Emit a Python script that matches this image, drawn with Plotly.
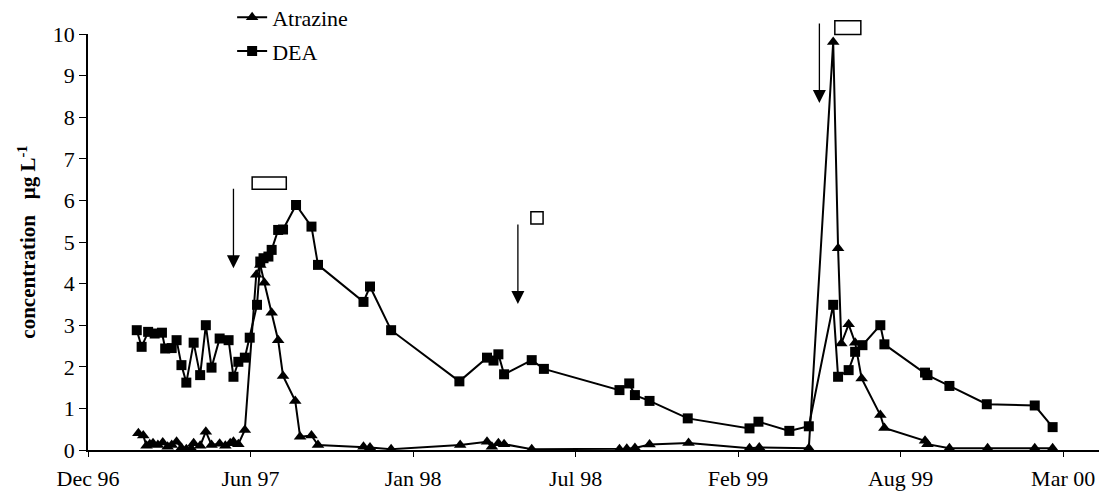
import plotly.graph_objects as go

# ---------------- data ----------------
atrazine_dates = [
    "1997-02-01", "1997-02-07", "1997-02-11", "1997-02-15", "1997-02-19", "1997-02-25",
    "1997-03-03", "1997-03-09", "1997-03-14", "1997-03-20", "1997-03-26", "1997-04-01",
    "1997-04-07", "1997-04-10", "1997-04-18", "1997-04-25", "1997-05-02", "1997-05-12",
    "1997-05-19", "1997-05-25", "1997-05-29", "1997-06-04", "1997-06-12", "1997-06-26",
    "1997-07-01", "1997-07-06", "1997-07-15", "1997-07-23", "1997-07-29", "1997-08-13",
    "1997-08-19", "1997-09-02", "1997-09-10", "1997-11-05", "1997-11-13", "1997-12-09",
    "1998-03-04", "1998-04-06", "1998-04-12", "1998-04-20", "1998-04-27", "1998-05-31",
    "1998-09-16", "1998-09-25", "1998-10-05", "1998-10-23", "1998-12-10", "1999-02-23",
    "1999-03-07", "1999-05-07", "1999-06-06", "1999-06-12", "1999-06-16", "1999-06-25",
    "1999-07-03", "1999-07-11", "1999-08-03", "1999-08-08", "1999-09-27", "1999-09-30",
    "1999-10-27", "1999-12-13", "2000-02-09", "2000-03-02",
]
atrazine_values = [
    0.40, 0.35, 0.10, 0.14, 0.16, 0.12,
    0.18, 0.08, 0.12, 0.20, 0.05, 0.02,
    0.04, 0.16, 0.10, 0.44, 0.12, 0.15,
    0.10, 0.16, 0.20, 0.14, 0.48, 4.21,
    4.45, 4.02, 3.30, 2.64, 1.78, 1.18,
    0.32, 0.35, 0.12, 0.08, 0.06, 0.02,
    0.12, 0.20, 0.08, 0.16, 0.14, 0.02,
    0.02, 0.03, 0.05, 0.13, 0.17, 0.04,
    0.06, 0.04, 9.81, 4.85, 2.56, 3.02,
    2.58, 1.72, 0.84, 0.53, 0.22, 0.14,
    0.04, 0.04, 0.04, 0.04,
]

dea_dates = [
    "1997-01-30", "1997-02-05", "1997-02-13", "1997-02-21", "1997-03-02", "1997-03-06",
    "1997-03-14", "1997-03-20", "1997-03-26", "1997-04-01", "1997-04-10", "1997-04-18",
    "1997-04-25", "1997-05-02", "1997-05-12", "1997-05-23", "1997-05-29", "1997-06-04",
    "1997-06-12", "1997-06-18", "1997-06-27", "1997-07-01", "1997-07-05", "1997-07-11",
    "1997-07-15", "1997-07-23", "1997-07-29", "1997-08-14", "1997-09-02", "1997-09-10",
    "1997-11-05", "1997-11-13", "1997-12-09", "1998-03-03", "1998-04-06", "1998-04-14",
    "1998-04-20", "1998-04-27", "1998-05-31", "1998-06-15", "1998-09-16", "1998-09-28",
    "1998-10-05", "1998-10-23", "1998-12-09", "1999-02-23", "1999-03-06", "1999-04-13",
    "1999-05-07", "1999-06-06", "1999-06-12", "1999-06-25", "1999-07-03", "1999-07-12",
    "1999-08-03", "1999-08-08", "1999-09-27", "1999-09-30", "1999-10-27", "1999-12-12",
    "2000-02-09", "2000-03-02",
]
dea_values = [
    2.88, 2.48, 2.84, 2.80, 2.82, 2.44,
    2.45, 2.64, 2.04, 1.62, 2.58, 1.80,
    3.00, 1.98, 2.68, 2.64, 1.76, 2.12,
    2.22, 2.70, 3.49, 4.53, 4.61, 4.65,
    4.81, 5.29, 5.30, 5.89, 5.37, 4.45,
    3.56, 3.93, 2.88, 1.65, 2.22, 2.15,
    2.30, 1.82, 2.16, 1.95, 1.44, 1.60,
    1.32, 1.18, 0.76, 0.52, 0.68, 0.46,
    0.57, 3.49, 1.76, 1.92, 2.36, 2.52,
    3.00, 2.54, 1.86, 1.80, 1.54, 1.10,
    1.07, 0.55,
]

tick_vals = ["1996-12-01", "1997-06-19", "1998-01-05", "1998-07-24",
             "1999-02-09", "1999-08-28", "2000-03-15"]
tick_labels = ["Dec 96", "Jun 97", "Jan 98", "Jul 98", "Feb 99", "Aug 99", "Mar 00"]

# application arrows (date, tip value) and sampling-period boxes
arrow_dates = ["1997-05-29", "1998-05-14", "1999-05-20"]
arrow_tips = [4.37, 3.51, 8.34]
box_starts = ["1997-06-21", "1998-05-30", "1999-06-08"]
box_ends = ["1997-08-02", "1998-06-14", "1999-07-10"]
box_low = [6.27, 5.43, 9.99]
box_high = [6.56, 5.73, 10.32]

FONT = "Liberation Serif, Times New Roman, serif"

fig = go.Figure()
fig.add_trace(go.Scatter(
    x=atrazine_dates, y=atrazine_values, name="Atrazine", mode="lines+markers",
    line=dict(color="black", width=2),
    marker=dict(symbol="triangle-up", size=11, color="black"),
    legendgroup="a",
))
fig.add_trace(go.Scatter(
    x=dea_dates, y=dea_values, name="DEA", mode="lines+markers",
    line=dict(color="black", width=2),
    marker=dict(symbol="square", size=10, color="black"),
    legendgroup="d",
))

YMAX = 10.0
for d, v in zip(arrow_dates, arrow_tips):
    fig.add_annotation(x=d, y=v, xref="x", yref="y", text="", showarrow=True,
                       ax=0, ay=-81, arrowhead=2, arrowsize=2.0, arrowwidth=1.3,
                       arrowcolor="black", standoff=0)
for s, e, lo, hi in zip(box_starts, box_ends, box_low, box_high):
    fig.add_shape(type="rect", xref="x", yref="paper", x0=s, x1=e,
                  y0=lo / YMAX, y1=hi / YMAX,
                  line=dict(color="black", width=1.5), fillcolor="white")

# The page body adds an 8px margin, so the figure is 8px smaller than the window
fig.update_layout(
    width=1099, height=487,
    margin=dict(l=80, r=4, t=26, b=45, autoexpand=False),
    paper_bgcolor="white", plot_bgcolor="white",
    font=dict(family=FONT, size=22, color="black"),
    showlegend=True,
    legend=dict(x=0.142, y=1.090, xanchor="left", yanchor="top",
                bgcolor="rgba(0,0,0,0)", font=dict(family=FONT, size=22),
                tracegroupgap=2, itemwidth=30),
    xaxis=dict(
        type="date", range=["1996-12-01", "2000-05-03"],
        tickmode="array", tickvals=tick_vals, ticktext=tick_labels,
        showline=True, linecolor="black", linewidth=1.5,
        ticks="outside", ticklen=5, tickwidth=1.2, tickcolor="black",
        showgrid=False, zeroline=False, automargin=False,
        tickfont=dict(family=FONT, size=22), ticklabelstandoff=3,
    ),
    yaxis=dict(
        range=[0, 10], tickvals=list(range(0, 11)),
        showline=True, linecolor="black", linewidth=1.5,
        ticks="outside", ticklen=7, tickwidth=1.2, tickcolor="black",
        showgrid=False, zeroline=False, automargin=False,
        tickfont=dict(family=FONT, size=22), ticklabelstandoff=0,
        title=dict(text="<b>concentration&nbsp;&nbsp; μg L<sup>-1</sup></b>",
                   font=dict(family=FONT, size=21), standoff=11),
    ),
)

fig.write_html("out.html")
